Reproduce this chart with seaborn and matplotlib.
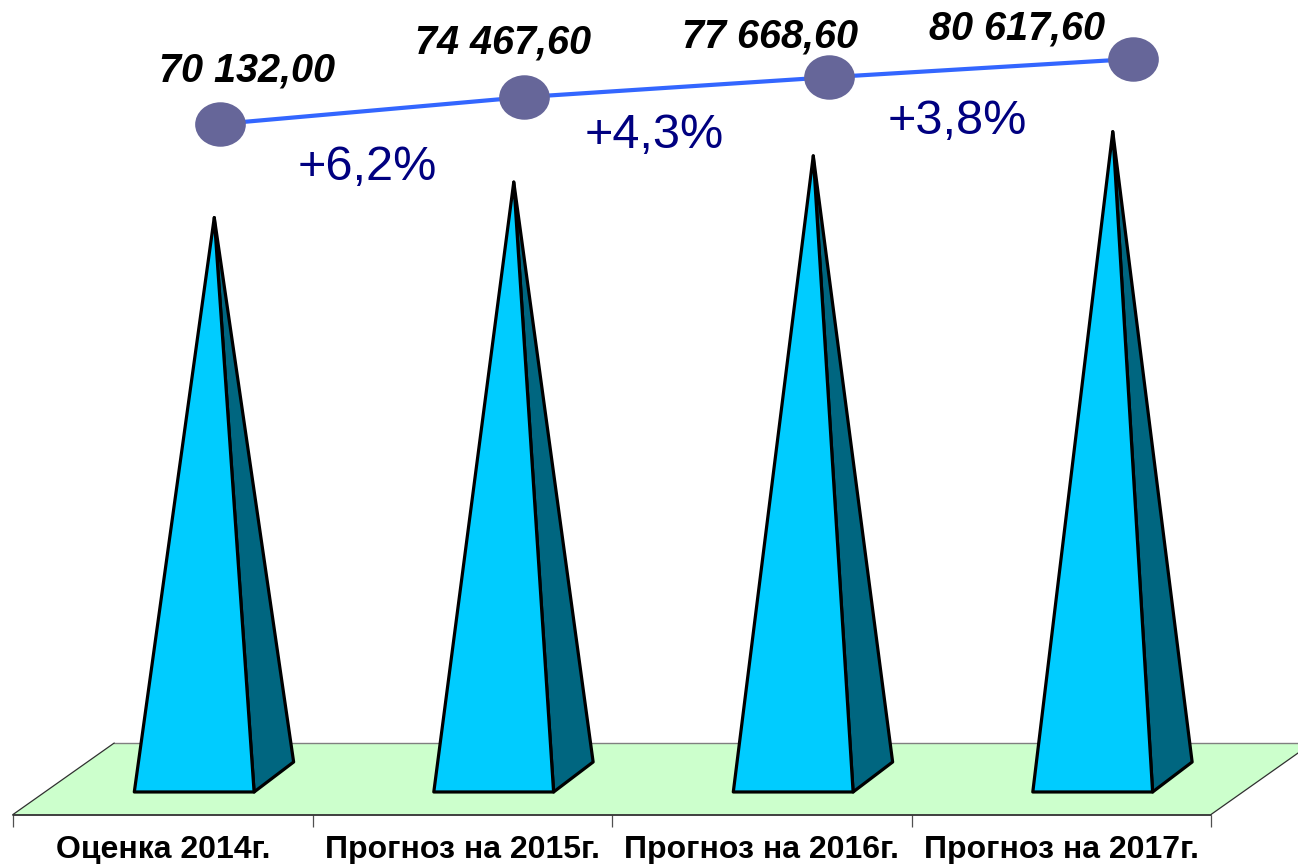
import matplotlib
matplotlib.use("Agg")
import matplotlib.pyplot as plt
import pandas as pd
import seaborn as sns
from matplotlib.path import Path
from matplotlib.transforms import Affine2D

categories = ["Оценка 2014г.", "Прогноз на 2015г.", "Прогноз на 2016г.", "Прогноз на 2017г."]
values = [70132.00, 74467.60, 77668.60, 80617.60]
value_labels = ["70 132,00", "74 467,60", "77 668,60", "80 617,60"]
growth_labels = ["+6,2%", "+4,3%", "+3,8%"]

sns.set_theme(style="white")
plt.rcParams["font.family"] = ["Liberation Sans", "DejaVu Sans"]

W, H = 1298, 864
fig = plt.figure(figsize=(W / 100, H / 100), dpi=100)
box = [13 / W, (H - 814.5) / H, 1198 / W, 814.5 / H]

# main axes: pyramids and floor, category units across, value units up
ax = fig.add_axes(box)
ax.set_xlim(-0.5, 3.5)
ax.set_ylim(-2750, 96700)
sns.despine(ax=ax, left=True, bottom=True, top=True, right=True)

# floor of the 3d chart
floor_dx = 0.338
floor_back = 5980
floor_front = -2750
ax.fill([-0.5, 3.5, 3.5 + floor_dx, -0.5 + floor_dx],
        [floor_front, floor_front, floor_back, floor_back],
        facecolor="#CCFFCC", edgecolor="none", clip_on=False, zorder=1)
ax.plot([-0.5 + floor_dx, 3.5 + floor_dx], [floor_back, floor_back], color="#808080", lw=1, clip_on=False, zorder=2)
ax.plot([-0.5, 3.5], [floor_front, floor_front], color="#303030", lw=1.3, clip_on=False, zorder=2)
ax.plot([-0.5, -0.5 + floor_dx], [floor_front, floor_back], color="#303030", lw=0.9, clip_on=False, zorder=2)
ax.plot([3.5, 3.5 + floor_dx], [floor_front, floor_back], color="#303030", lw=0.9, clip_on=False, zorder=2)

# pyramids, height follows the value
for i, v in enumerate(values):
    left, right = i - 0.095, i + 0.305
    back_x, back_y = i + 0.437, 3660
    tip = i + 0.172
    ax.fill([right, back_x, tip], [0, back_y, v], facecolor="#006680", edgecolor="black",
            lw=2.3, joinstyle="round", zorder=3)
    ax.fill([left, right, tip], [0, 0, v], facecolor="#00CCFF", edgecolor="black",
            lw=2.3, joinstyle="round", zorder=4)

ax.set_yticks([])
ax.set_xticks([-0.5, 0.5, 1.5, 2.5, 3.5])
ax.set_xticklabels([])
ax.set_xticks([0, 1, 2, 3], minor=True)
ax.set_xticklabels(categories, minor=True, fontsize=23, fontweight="bold", color="black")
ax.tick_params(axis="x", which="major", bottom=True, length=8.5, width=0.9, color="#505050")
ax.tick_params(axis="x", which="minor", bottom=False, length=0, pad=14.6)

# line sits on its own scale above the pyramids
ax2 = fig.add_axes(box)
ax2.patch.set_visible(False)
line_df = pd.DataFrame({"pos": range(len(values)), "value": values})
ellipse = Path.unit_circle().transformed(Affine2D().scale(1.14, 1))
sns.lineplot(data=line_df, x="pos", y="value", ax=ax2, color="#3366FF", lw=3, marker=ellipse,
             markersize=36.5, markerfacecolor="#666699", markeredgewidth=0, errorbar=None)
ax2.set_xlim(-0.680, 3.257)
ax2.set_ylim(-41241, 90132)
ax2.axis("off")

# text placed in picture pixels, y is the baseline
px = Affine2D().scale(1, -1).translate(0, H)
value_pos = [(247, 81), (503, 54), (770, 48), (1017, 39)]
growth_pos = [(367, 180), (654, 148), (957, 134)]
for (x, y), s in zip(value_pos, value_labels):
    fig.text(x, y, s, transform=px, ha="center", va="baseline", fontsize=28.5,
             fontweight="bold", fontstyle="italic", color="black")
for (x, y), s in zip(growth_pos, growth_labels):
    fig.text(x, y, s, transform=px, ha="center", va="baseline", fontsize=35, color="#000080")

fig.savefig("out.png", dpi=100)
